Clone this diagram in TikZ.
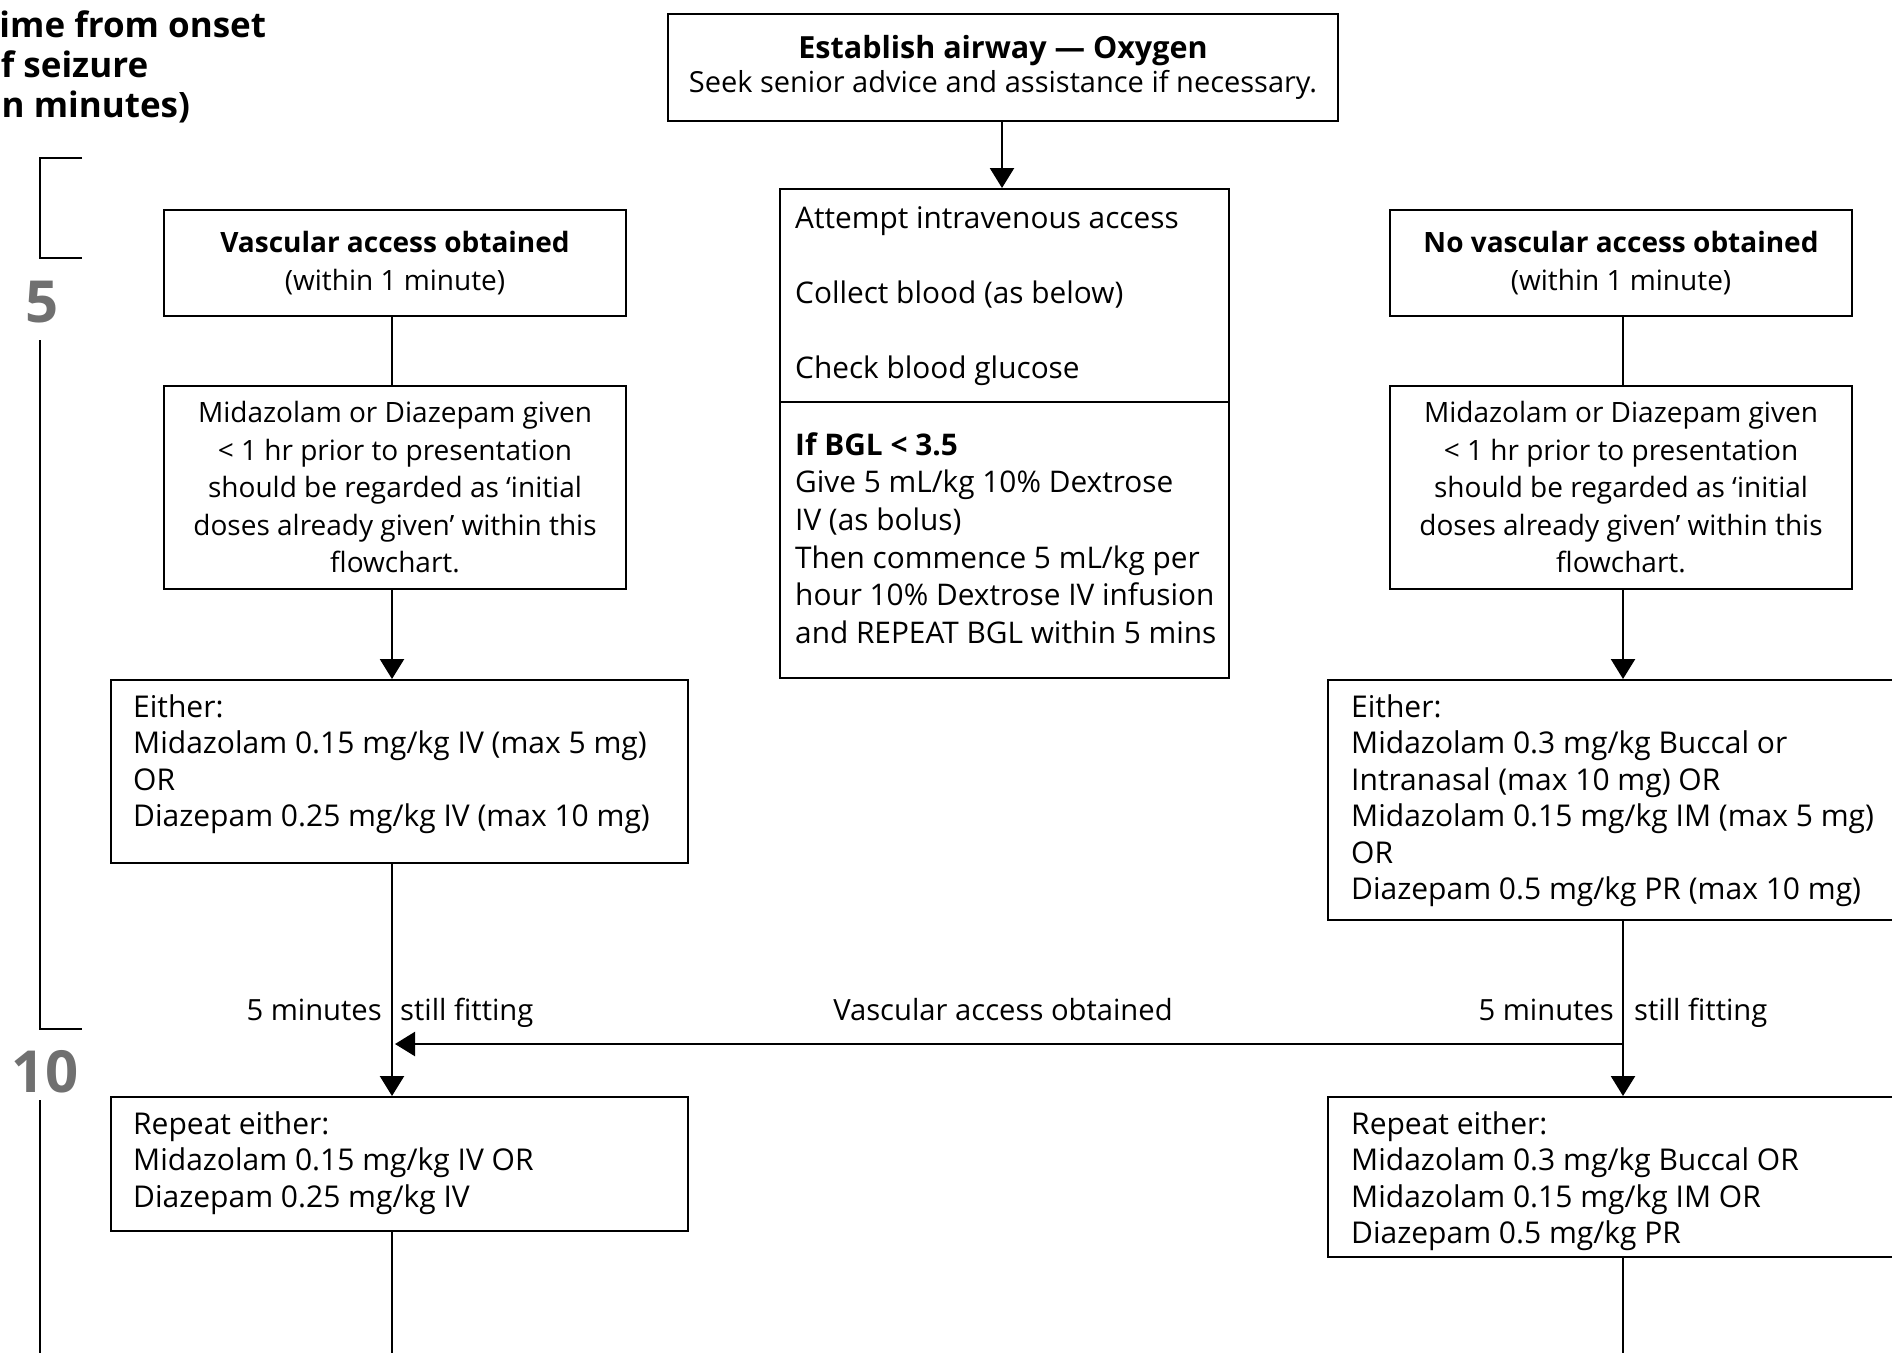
\documentclass[tikz,border=0pt]{standalone}
\usepackage{fontspec}
\setmainfont{Open Sans}
\usetikzlibrary{arrows.meta}
\definecolor{numgray}{HTML}{707070}
\tikzset{
  box/.style={draw=black, line width=2pt, rectangle, inner sep=0pt},
  txt/.style={inner sep=0pt, font=\fontsize{28}{37.5}\selectfont},
  ltxt/.style={inner sep=0pt, align=left, font=\fontsize{30}{36.5}\selectfont},
  mtxt/.style={inner sep=0pt, align=left, font=\fontsize{29.8}{37.7}\selectfont},
  lbl/.style={inner sep=0pt, font=\fontsize{29.2}{36}\selectfont},
  conn/.style={line width=2.4pt},
  arr/.style={conn, -{Triangle[width=24pt,length=20pt]}},
  tl/.style={line width=2.4pt},
  num/.style={inner sep=0pt, text=numgray, font=\fontsize{58}{60}\selectfont\bfseries},
  ttl/.style={inner sep=0pt, align=left, font=\fontsize{35}{40}\selectfont\bfseries},
}
\begin{document}
\begin{tikzpicture}[x=1pt,y=-1pt]
\useasboundingbox (0,0) rectangle (1892,1352);
% title
\node[ttl, anchor=north west] (title) at (-21,11) {Time from onset\\of seizure\\(in minutes)};
% timeline
\coordinate (t1) at (82,158); \coordinate (t2) at (40,158);
\coordinate (t3) at (40,258); \coordinate (t4) at (82,258);
\draw[tl] (t1) -- (t2) -- (t3) -- (t4);
\node[num] (n5) at (42,302) {5};
\coordinate (t5) at (40,340); \coordinate (t6) at (40,1029); \coordinate (t7) at (82,1029);
\draw[tl] (t5) -- (t6) -- (t7);
\node[num] (n10) at (45,1072) {10};
\coordinate (t8) at (40,1100); \coordinate (t9) at (40,1360);
\draw[tl] (t8) -- (t9);
% column coordinates
\coordinate (cL) at (392,0);
\coordinate (cR) at (1623,0);
\coordinate (cM) at (1002,0);
% top box
\node[box, align=center, minimum width=670, minimum height=107, font=\fontsize{29}{34}\selectfont] (top) at (1003,67.5)
  {{\fontsize{30.5}{34}\selectfont\bfseries Establish airway — Oxygen}\\Seek senior advice and assistance if necessary.};
% middle box
\node[box, minimum width=449, minimum height=489, anchor=north west] (mid) at (779,188) {};
\coordinate (divy) at (0,402);
\draw[conn] (mid.west |- divy) -- (mid.east |- divy);
\node[mtxt, anchor=north west] (m1) at (795,206)
  {Attempt intravenous access\\[37.7pt]Collect blood (as below)\\[37.7pt]Check blood glucose};
\node[mtxt, anchor=north west] (m2) at (795,432)
  {\textbf{If BGL < 3.5}\\Give 5 mL/kg 10\% Dextrose\\IV (as bolus)\\Then commence 5 mL/kg per\\hour 10\% Dextrose IV infusion\\and REPEAT BGL within 5 mins};
\draw[arr] (top.south -| cM) -- (mid.north -| cM);
% left column
\node[box, txt, align=center, minimum width=462, minimum height=106] (L1) at (395,263)
  {\textbf{Vascular access obtained}\\(within 1 minute)};
\node[box, txt, align=center, minimum width=462, minimum height=203] (L2) at (395,487.5)
  {Midazolam or Diazepam given\\< 1 hr prior to presentation\\should be regarded as ‘initial\\doses already given’ within this\\flowchart.};
\node[box, minimum width=577, minimum height=183, anchor=north west] (L3) at (110,679) {};
\node[ltxt, anchor=north west] (L3t) at (133,694)
  {Either:\\Midazolam 0.15 mg/kg IV (max 5 mg)\\OR\\Diazepam 0.25 mg/kg IV (max 10 mg)};
\node[box, minimum width=577, minimum height=134, anchor=north west] (L4) at (110,1096) {};
\node[ltxt, anchor=north west] (L4t) at (133,1111)
  {Repeat either:\\Midazolam 0.15 mg/kg IV OR\\Diazepam 0.25 mg/kg IV};
\draw[conn] (L1.south -| cL) -- (L2.north -| cL);
\draw[arr] (L2.south -| cL) -- (L3.north -| cL);
\draw[arr] (L3.south -| cL) -- (L4.north -| cL);
\coordinate (Lend) at (392,1360);
\draw[conn] (L4.south -| cL) -- (Lend);
\node[lbl, anchor=base east] (L5m) at (382,1020) {5 minutes};
\node[lbl, anchor=base west] (Lsf) at (400,1020) {still fitting};
% right column
\node[box, txt, align=center, minimum width=462, minimum height=106] (R1) at (1621,263)
  {\textbf{No vascular access obtained}\\(within 1 minute)};
\node[box, txt, align=center, minimum width=462, minimum height=203] (R2) at (1621,487.5)
  {Midazolam or Diazepam given\\< 1 hr prior to presentation\\should be regarded as ‘initial\\doses already given’ within this\\flowchart.};
\node[box, minimum width=580, minimum height=240, anchor=north west] (R3) at (1327,679) {};
\node[ltxt, anchor=north west] (R3t) at (1351,694)
  {Either:\\Midazolam 0.3 mg/kg Buccal or\\Intranasal (max 10 mg) OR\\Midazolam 0.15 mg/kg IM (max 5 mg)\\OR\\Diazepam 0.5 mg/kg PR (max 10 mg)};
\node[box, minimum width=580, minimum height=160, anchor=north west] (R4) at (1327,1096) {};
\node[ltxt, anchor=north west] (R4t) at (1351,1111)
  {Repeat either:\\Midazolam 0.3 mg/kg Buccal OR\\Midazolam 0.15 mg/kg IM OR\\Diazepam 0.5 mg/kg PR};
\draw[conn] (R1.south -| cR) -- (R2.north -| cR);
\draw[arr] (R2.south -| cR) -- (R3.north -| cR);
\draw[arr] (R3.south -| cR) -- (R4.north -| cR);
\coordinate (Rend) at (1623,1360);
\draw[conn] (R4.south -| cR) -- (Rend);
\node[lbl, anchor=base east] (R5m) at (1614,1020) {5 minutes};
\node[lbl, anchor=base west] (Rsf) at (1634,1020) {still fitting};
% cross arrow
\coordinate (hR) at (1623,1044);
\coordinate (hL) at (395,1044);
\draw[arr] (hR) -- (hL);
\node[lbl, anchor=base] (va) at (1003,1020) {Vascular access obtained};
\end{tikzpicture}
\end{document}
